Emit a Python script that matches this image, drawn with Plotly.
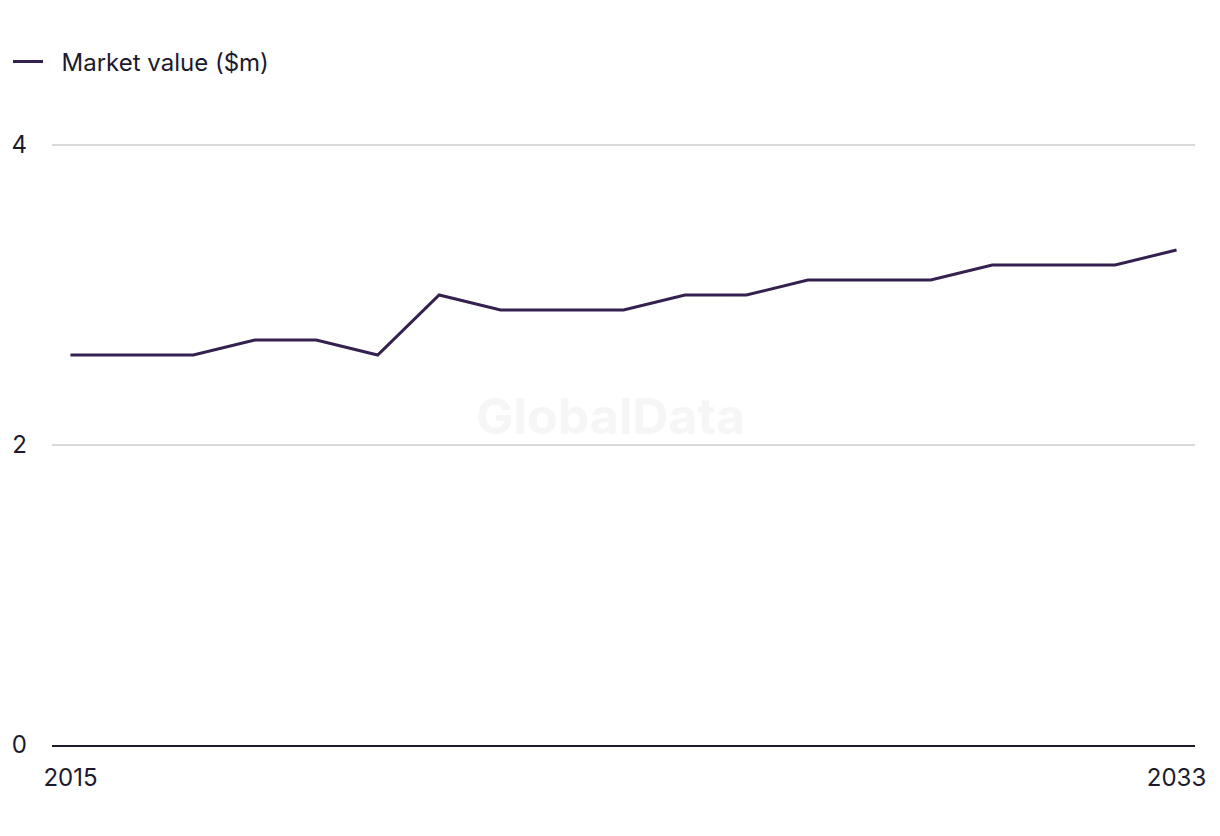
import plotly.graph_objects as go

years = list(range(2015, 2034))
market_value = [2.6, 2.6, 2.6, 2.7, 2.7, 2.6, 3.0, 2.9, 2.9, 2.9, 3.0, 3.0, 3.1, 3.1, 3.1, 3.2, 3.2, 3.2, 3.3]
series_name = "Market value ($m)"
y_ticks = [0, 2, 4]
x_ticks = [2015, 2033]

TEXT = "#1c1b2e"
LINE = "#35214f"
FONT = "Inter"

fig = go.Figure()
fig.add_trace(go.Scatter(
    x=years, y=market_value, mode="lines", name="\u00a0\u00a0" + series_name,
    line=dict(color=LINE, width=3),
))

fig.add_annotation(
    text="<b>GlobalData</b>", x=0.489, y=0.545, xref="paper", yref="paper",
    showarrow=False, font=dict(family=FONT, size=50, color="#f6f6f6"),
)

fig.update_layout(
    width=1220, height=836,
    paper_bgcolor="white", plot_bgcolor="white",
    margin=dict(l=44, r=33, t=134, b=99, autoexpand=False),
    font=dict(family=FONT, size=24, color=TEXT),
    showlegend=True,
    legend=dict(
        xref="container", yref="container", x=-0.0052, y=0.9624,
        xanchor="left", yanchor="top", orientation="h",
        font=dict(family=FONT, size=24, color=TEXT),
        bgcolor="rgba(0,0,0,0)",
    ),
    xaxis=dict(
        range=[2014.7, 2033.3], tickvals=x_ticks, ticktext=[str(v) for v in x_ticks],
        showgrid=False, zeroline=False, showline=True, linecolor=TEXT, linewidth=2,
        ticks="", ticklabelstandoff=10, automargin=False,
        tickfont=dict(family=FONT, size=24, color=TEXT),
    ),
    yaxis=dict(
        range=[0, 4.02], tickvals=y_ticks, showgrid=True, gridcolor="#d9d9d9", gridwidth=1.5,
        zeroline=False, showline=False, ticks="", ticklabelstandoff=24, automargin=False,
        tickfont=dict(family=FONT, size=24, color=TEXT),
    ),
)

fig.write_html("out.html")
